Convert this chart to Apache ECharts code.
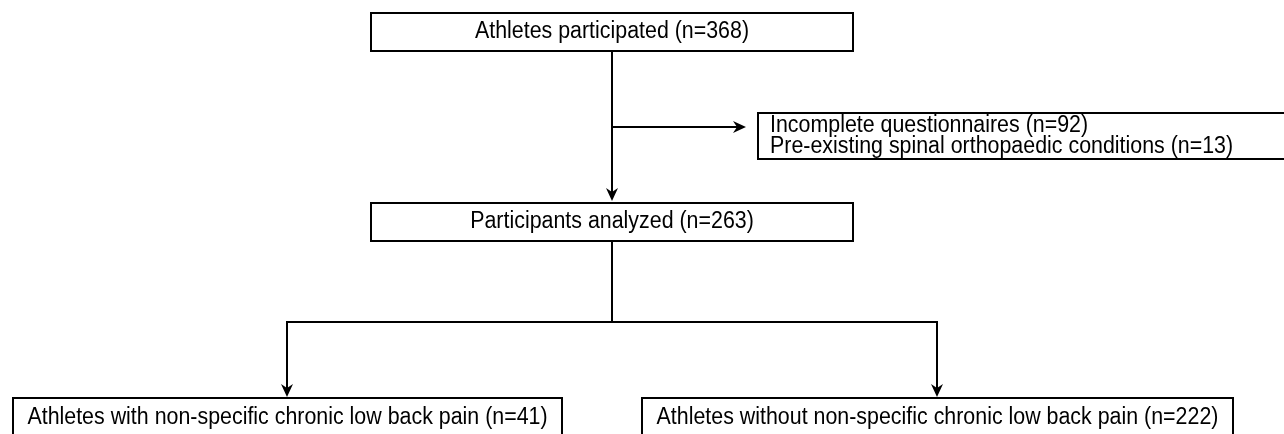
<!DOCTYPE html>
<html>
<head>
<meta charset="utf-8">
<script src="https://cdn.jsdelivr.net/npm/echarts@6/dist/echarts.min.js"></script>
<style>
  html, body { margin: 0; padding: 0; background: #fff; }
  #chart { width: 1284px; height: 434px; }
</style>
</head>
<body>
<div id="chart"></div>
<script>
// ---- Data (text and counts) ----
const stepLabels = [
  'Athletes participated',
  'Incomplete questionnaires',
  'Pre-existing spinal orthopaedic conditions',
  'Participants analyzed',
  'Athletes with non-specific chronic low back pain',
  'Athletes without non-specific chronic low back pain'
];
const stepCounts = [368, 92, 13, 263, 41, 222];

// Boxes: which steps go in which box (box text lines)
const boxSteps = [[0], [1, 2], [3], [4], [5]];

// ---- Layout (pixel space of the picture, used as axis coordinates) ----
const boxRects = [
  [371, 13, 853, 51],
  [758, 113, 1300, 159],
  [371, 203, 853, 241],
  [13, 398, 562, 437],
  [642, 398, 1233, 437]
];
const boxAlign = ['center', 'left', 'center', 'center', 'center'];

const edgePaths = [
  [[612, 51], [612, 201]],
  [[612, 127], [746, 127]],
  [[612, 241], [612, 322], [287, 322], [287, 397]],
  [[612, 322], [937, 322], [937, 397]]
];

const FONT = '"Liberation Sans", Arial, Helvetica, sans-serif';
const FONT_SIZE = 23;
const SCALE_X = 0.93;

function labelOf(i) { return stepLabels[i] + ' (n=' + stepCounts[i] + ')'; }

const chart = echarts.init(document.getElementById('chart'), null, { renderer: 'canvas' });

const option = {
  animation: false,
  backgroundColor: '#ffffff',
  grid: { left: 0, right: 0, top: 0, bottom: 0 },
  xAxis: { type: 'value', min: 0, max: 1284, show: false },
  yAxis: { type: 'value', min: 0, max: 434, inverse: true, show: false },
  series: [
    {
      type: 'custom',
      name: 'edges',
      coordinateSystem: 'cartesian2d',
      data: edgePaths.map((p, i) => [i]),
      clip: false,
      renderItem: function (params, api) {
        const idx = api.value(0);
        const pts = edgePaths[idx].map(p => api.coord(p));
        const n = pts.length;
        const end = pts[n - 1], prev = pts[n - 2];
        const dx = end[0] - prev[0], dy = end[1] - prev[1];
        const len = Math.sqrt(dx * dx + dy * dy);
        const ux = dx / len, uy = dy / len;
        const px = -uy, py = ux;
        const L = 13, W = 6, notch = 4;
        const base = [end[0] - ux * L, end[1] - uy * L];
        const inner = [end[0] - ux * (L - notch), end[1] - uy * (L - notch)];
        const head = [
          end,
          [base[0] + px * W, base[1] + py * W],
          inner,
          [base[0] - px * W, base[1] - py * W]
        ];
        const linePts = pts.slice(0, n - 1).concat([inner]);
        return {
          type: 'group',
          children: [
            { type: 'polyline', shape: { points: linePts }, style: { stroke: '#000', lineWidth: 2, fill: null } },
            { type: 'polygon', shape: { points: head }, style: { fill: '#000', stroke: null } }
          ]
        };
      }
    },
    {
      type: 'custom',
      name: 'boxes',
      coordinateSystem: 'cartesian2d',
      data: boxRects.map((r, i) => [r[0], r[1], r[2], r[3], i]),
      clip: false,
      renderItem: function (params, api) {
        const p1 = api.coord([api.value(0), api.value(1)]);
        const p2 = api.coord([api.value(2), api.value(3)]);
        const i = api.value(4);
        const lines = boxSteps[i].map(labelOf);
        const align = boxAlign[i];
        const tx = align === 'left' ? p1[0] + 12 : (p1[0] + p2[0]) / 2;
        const ty = (p1[1] + p2[1]) / 2;
        return {
          type: 'group',
          children: [
            {
              type: 'rect',
              shape: { x: p1[0], y: p1[1], width: p2[0] - p1[0], height: p2[1] - p1[1] },
              style: { fill: '#fff', stroke: '#000', lineWidth: 2 }
            },
            {
              type: 'text',
              x: tx, y: ty,
              scaleX: SCALE_X, scaleY: 1,
              style: {
                text: lines.join('\n'),
                fill: '#000',
                font: FONT_SIZE + 'px ' + FONT,
                lineHeight: 21,
                align: align,
                verticalAlign: 'middle'
              }
            }
          ]
        };
      }
    }
  ]
};
chart.setOption(option);
</script>
</body>
</html>
